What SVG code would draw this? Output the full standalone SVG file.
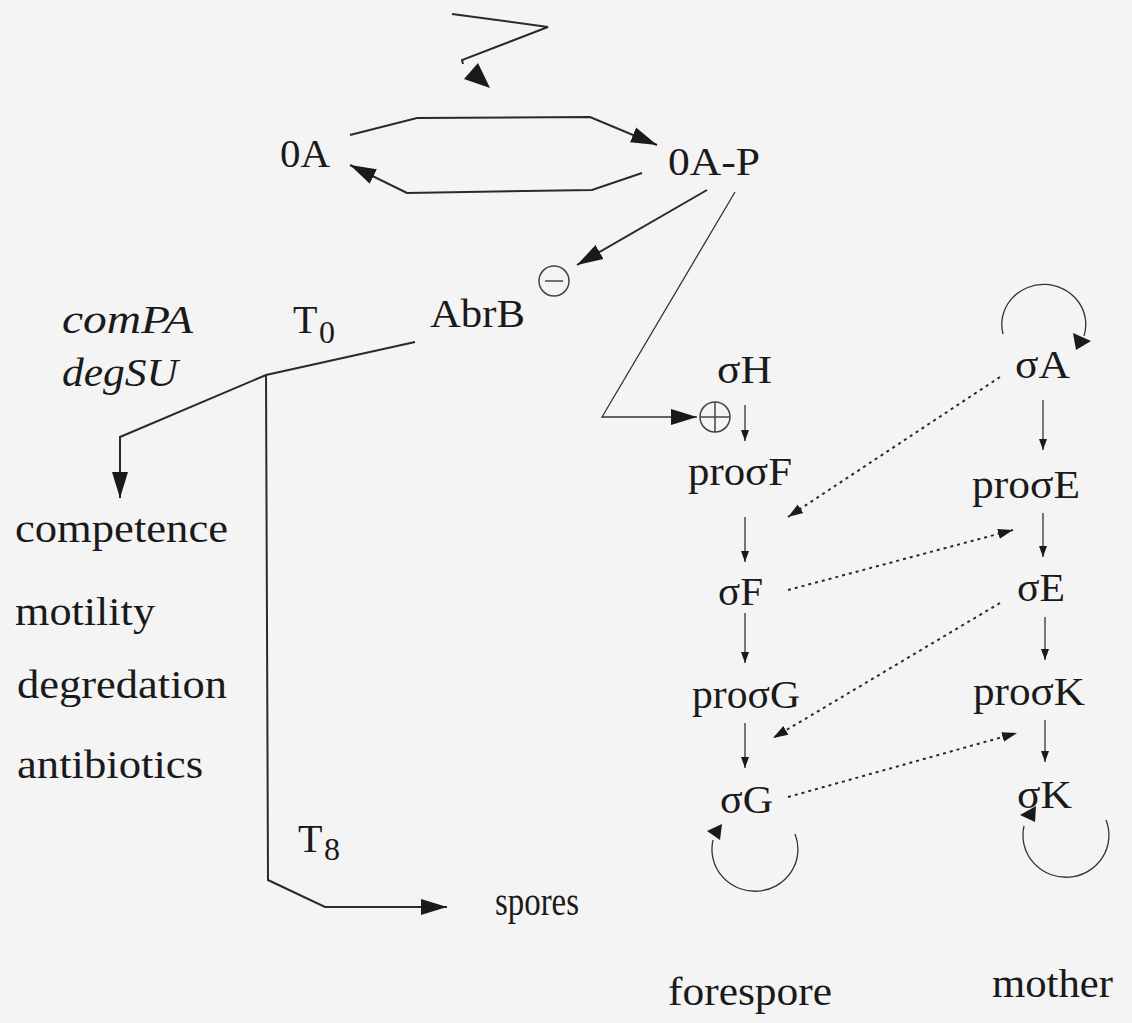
<svg xmlns="http://www.w3.org/2000/svg" width="1132" height="1023" viewBox="0 0 1132 1023">
<style>
  .t { font-family: "Liberation Serif", "Times New Roman", serif; fill: #1a1a1a; font-size: 40px; }
  .it { font-style: italic; }
  .ln { fill: none; stroke: #2a2a2a; stroke-width: 2; }
  .thin { fill: none; stroke: #333; stroke-width: 1.3; }
  .dot { fill: none; stroke: #2a2a2a; stroke-width: 2; stroke-dasharray: 3 4; }
  .ah { fill: #1a1a1a; }
  .circ { fill: none; stroke: #444; stroke-width: 1.5; }
</style>
<defs>
  <marker id="big" markerUnits="userSpaceOnUse" markerWidth="28" markerHeight="18" refX="26" refY="9" orient="auto">
    <path d="M0,1 L26,9 L0,17 Z" fill="#1a1a1a"/>
  </marker>
  <marker id="small" markerUnits="userSpaceOnUse" markerWidth="12" markerHeight="10" refX="11" refY="5" orient="auto">
    <path d="M0,1 L11,5 L0,9 Z" fill="#1a1a1a"/>
  </marker>
  <marker id="dm" markerUnits="userSpaceOnUse" markerWidth="16" markerHeight="12" refX="15" refY="6" orient="auto">
    <path d="M0,1 L15,6 L0,11 Z" fill="#1a1a1a"/>
  </marker>
</defs>
<rect width="1132" height="1023" fill="#f4f4f4"/>

<g id="connectors">
  <path class="ln" d="M452,14 L548,27 L462,60 L463,64"/>
  <polygon class="ah" points="490,88 464,79 478,63"/>
  <path class="ln" d="M350,135 L417,118 L590,117 L657,145" marker-end="url(#big)"/>
  <path class="ln" d="M642,173 L592,190 L407,193 L350,165" marker-end="url(#big)"/>
  <path class="ln" d="M707,190 L577,265" marker-end="url(#big)"/>
  <path class="thin" d="M735,192 L602,417 L697,417" marker-end="url(#big)"/>
  <path class="ln" d="M415,342 L266,375 L120,437 L120,498" marker-end="url(#big)"/>
  <path class="ln" d="M266,375 L268,880 L325,907 L447,907" marker-end="url(#big)"/>

  <path class="thin" d="M745,405 L745,441" marker-end="url(#small)"/>
  <path class="thin" d="M745,517 L745,562" marker-end="url(#small)"/>
  <path class="thin" d="M745,613 L745,663" marker-end="url(#small)"/>
  <path class="thin" d="M745,723 L745,768" marker-end="url(#small)"/>
  <path class="thin" d="M1043,400 L1043,450" marker-end="url(#small)"/>
  <path class="thin" d="M1043,513 L1043,557" marker-end="url(#small)"/>
  <path class="thin" d="M1045,617 L1045,660" marker-end="url(#small)"/>
  <path class="thin" d="M1045,720 L1045,762" marker-end="url(#small)"/>

  <path class="dot" d="M1000,377 L788,517" marker-end="url(#dm)"/>
  <path class="dot" d="M788,590 L1013,530" marker-end="url(#dm)"/>
  <path class="dot" d="M1000,603 L773,738" marker-end="url(#dm)"/>
  <path class="dot" d="M788,797 L1017,733" marker-end="url(#dm)"/>

  <path class="thin" d="M1003,334 A42,40 0 1 1 1084,336"/>
  <polygon class="ah" points="1073,333 1091,341 1076,350"/>
  <path class="thin" d="M795,834 A43,42 0 1 1 713,840"/>
  <polygon class="ah" points="707,831 722,824 720,840"/>
  <path class="thin" d="M1106,820 A43,42 0 1 1 1024,826"/>
  <polygon class="ah" points="1020,815 1036,806 1035,822"/>
</g>

<g id="n-0A"><text class="t" x="280" y="167" font-size="37" textLength="50" lengthAdjust="spacingAndGlyphs">0A</text></g>
<g id="n-0AP"><text class="t" x="668" y="175" font-size="40" textLength="92" lengthAdjust="spacingAndGlyphs">0A-P</text></g>
<g id="n-AbrB"><text class="t" x="430" y="327" font-size="40" textLength="95" lengthAdjust="spacingAndGlyphs">AbrB</text></g>
<g id="n-minus">
  <circle class="circ" cx="554" cy="281" r="15"/>
  <line x1="545" y1="281" x2="563" y2="281" stroke="#444" stroke-width="1.5"/>
</g>
<g id="n-plus">
  <circle class="circ" cx="715" cy="417" r="15"/>
  <line x1="700" y1="417" x2="730" y2="417" stroke="#444" stroke-width="1.5"/>
  <line x1="715" y1="402" x2="715" y2="432" stroke="#444" stroke-width="1.5"/>
</g>
<g id="n-T0"><text class="t" x="293" y="333">T<tspan x="319" y="343" font-size="32">0</tspan></text></g>
<g id="n-T8"><text class="t" x="298" y="852">T<tspan x="324" y="860" font-size="32">8</tspan></text></g>
<g id="n-genes">
  <text class="t it" x="62" y="333" font-size="38" textLength="131" lengthAdjust="spacingAndGlyphs">comPA</text>
  <text class="t it" x="62" y="386" font-size="38" textLength="116" lengthAdjust="spacingAndGlyphs">degSU</text>
</g>
<g id="n-outputs">
  <text class="t" x="15" y="542" font-size="43" textLength="213" lengthAdjust="spacingAndGlyphs">competence</text>
  <text class="t" x="15" y="625" font-size="43" textLength="140" lengthAdjust="spacingAndGlyphs">motility</text>
  <text class="t" x="17" y="698" font-size="43" textLength="210" lengthAdjust="spacingAndGlyphs">degredation</text>
  <text class="t" x="17" y="778" font-size="43" textLength="186" lengthAdjust="spacingAndGlyphs">antibiotics</text>
</g>
<g id="n-spores"><text class="t" x="495" y="915" font-size="35" textLength="84" lengthAdjust="spacingAndGlyphs">spores</text></g>
<g id="n-sH"><text class="t" x="717" y="383" textLength="55" lengthAdjust="spacingAndGlyphs">σH</text></g>
<g id="n-sA"><text class="t" x="1015" y="378" textLength="55" lengthAdjust="spacingAndGlyphs">σA</text></g>
<g id="n-prosF"><text class="t" x="688" y="485" textLength="104" lengthAdjust="spacingAndGlyphs">proσF</text></g>
<g id="n-prosE"><text class="t" x="972" y="498" textLength="108" lengthAdjust="spacingAndGlyphs">proσE</text></g>
<g id="n-sF"><text class="t" x="718" y="605" textLength="45" lengthAdjust="spacingAndGlyphs">σF</text></g>
<g id="n-sE"><text class="t" x="1017" y="601" textLength="48" lengthAdjust="spacingAndGlyphs">σE</text></g>
<g id="n-prosG"><text class="t" x="692" y="708" textLength="108" lengthAdjust="spacingAndGlyphs">proσG</text></g>
<g id="n-prosK"><text class="t" x="973" y="705" textLength="112" lengthAdjust="spacingAndGlyphs">proσK</text></g>
<g id="n-sG"><text class="t" x="720" y="813" textLength="53" lengthAdjust="spacingAndGlyphs">σG</text></g>
<g id="n-sK"><text class="t" x="1017" y="808" textLength="55" lengthAdjust="spacingAndGlyphs">σK</text></g>
<g id="n-forespore"><text class="t" x="668" y="1005" textLength="164" lengthAdjust="spacingAndGlyphs">forespore</text></g>
<g id="n-mother"><text class="t" x="992" y="997" textLength="121" lengthAdjust="spacingAndGlyphs">mother</text></g>
</svg>
